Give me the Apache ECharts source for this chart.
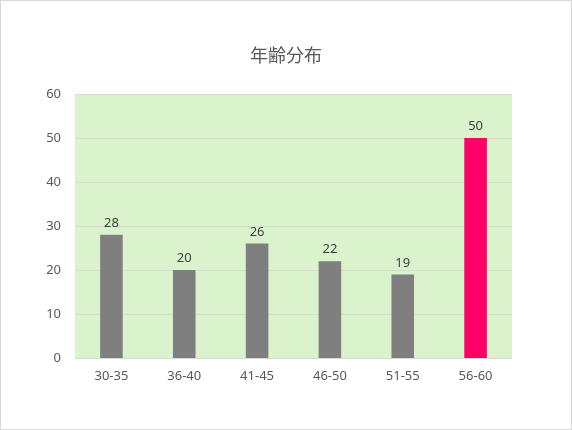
<!DOCTYPE html>
<html><head><meta charset="utf-8">
<script src="https://cdn.jsdelivr.net/npm/echarts@6/dist/echarts.min.js"></script>
<style>html,body{margin:0;padding:0;background:#fff}#c{width:570px;height:428px;border:1px solid #d9d9d9}</style>
</head><body><div id="c"></div>
<script>
const categories = ['30-35','36-40','41-45','46-50','51-55','56-60'];
const values = [28,20,26,22,19,50];
const barColors = ['#7f7f7f','#7f7f7f','#7f7f7f','#7f7f7f','#7f7f7f','#ff0066'];
const chart = echarts.init(document.getElementById('c'));
chart.setOption({
  animation:false,
  title:{text:'年齢分布',left:'center',top:40,textStyle:{fontSize:18,fontWeight:'normal',color:'#595959',fontFamily:'Noto Sans CJK JP'}},
  grid:{left:74,right:59,top:93,bottom:71,backgroundColor:'#daf3cd',show:true,borderWidth:0},
  xAxis:{type:'category',data:categories,axisTick:{show:false},axisLine:{lineStyle:{color:'#d9d9d9'}},
    axisLabel:{color:'#595959',fontSize:13,margin:12,fontFamily:'Noto Sans'}},
  yAxis:{type:'value',min:0,max:60,interval:10,axisLabel:{color:'#595959',fontSize:13,margin:14,fontFamily:'Noto Sans'},
    splitLine:{lineStyle:{color:'#d9d9d9'}}},
  series:[{type:'bar',barWidth:'31%',
    data:values.map((v,i)=>({value:v,itemStyle:{color:barColors[i]}})),
    label:{show:true,position:'top',color:'#404040',fontSize:13,fontFamily:'Noto Sans'}}]
});
</script></body></html>
